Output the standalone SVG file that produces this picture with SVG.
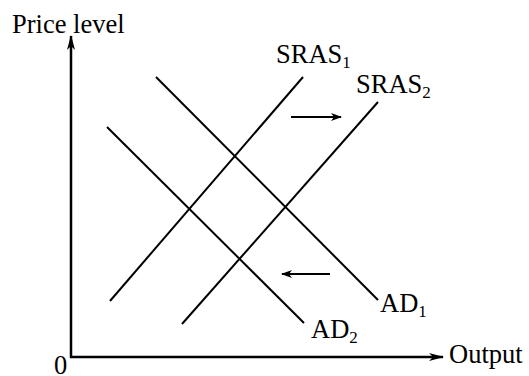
<svg xmlns="http://www.w3.org/2000/svg" width="529" height="376" viewBox="0 0 529 376">
<defs>
<style>
.t{font-family:"Liberation Serif","Times New Roman",serif;font-size:26.5px;fill:#000}
.s{font-size:17px}
.c{stroke:#000;stroke-width:2;fill:none}
.ax{stroke:#000;stroke-width:2.5;fill:none}
.sh{stroke:#000;stroke-width:2;fill:none}
</style>
<marker id="ah" markerWidth="15" markerHeight="10" refX="14" refY="5" orient="auto" markerUnits="userSpaceOnUse">
<path d="M0,1 L15,5 L0,9 L4,5 Z" fill="#000"/>
</marker>
<marker id="sh" markerWidth="11" markerHeight="8" refX="10" refY="4" orient="auto" markerUnits="userSpaceOnUse">
<path d="M0,0 L11,4 L0,8 L3,4 Z" fill="#000"/>
</marker>
</defs>
<rect width="529" height="376" fill="#fff"/>
<g id="axes">
<line class="ax" x1="71" y1="358" x2="71" y2="36" marker-end="url(#ah)"/>
<line class="ax" x1="70" y1="357" x2="443" y2="357" marker-end="url(#ah)"/>
<text class="t" x="12" y="33">Price level</text>
<text class="t" x="449" y="363">Output</text>
<text class="t" x="54" y="374" font-size="24">0</text>
</g>
<g id="SRAS1">
<line class="c" x1="110" y1="301" x2="303" y2="77"/>
<text class="t" x="276" y="63">SRAS<tspan class="s" dy="5">1</tspan></text>
</g>
<g id="SRAS2">
<line class="c" x1="182" y1="324" x2="378" y2="102"/>
<text class="t" x="356" y="93">SRAS<tspan class="s" dy="5">2</tspan></text>
</g>
<g id="AD1">
<line class="c" x1="156" y1="77" x2="378" y2="300"/>
<text class="t" x="380" y="312">AD<tspan class="s" dy="5">1</tspan></text>
</g>
<g id="AD2">
<line class="c" x1="107" y1="127" x2="304" y2="323"/>
<text class="t" x="311" y="338">AD<tspan class="s" dy="5">2</tspan></text>
</g>
<g id="connectors">
<line class="sh" x1="291" y1="117" x2="341" y2="117" marker-end="url(#sh)"/>
<line class="sh" x1="330" y1="274" x2="282" y2="274" marker-end="url(#sh)"/>
</g>
</svg>
